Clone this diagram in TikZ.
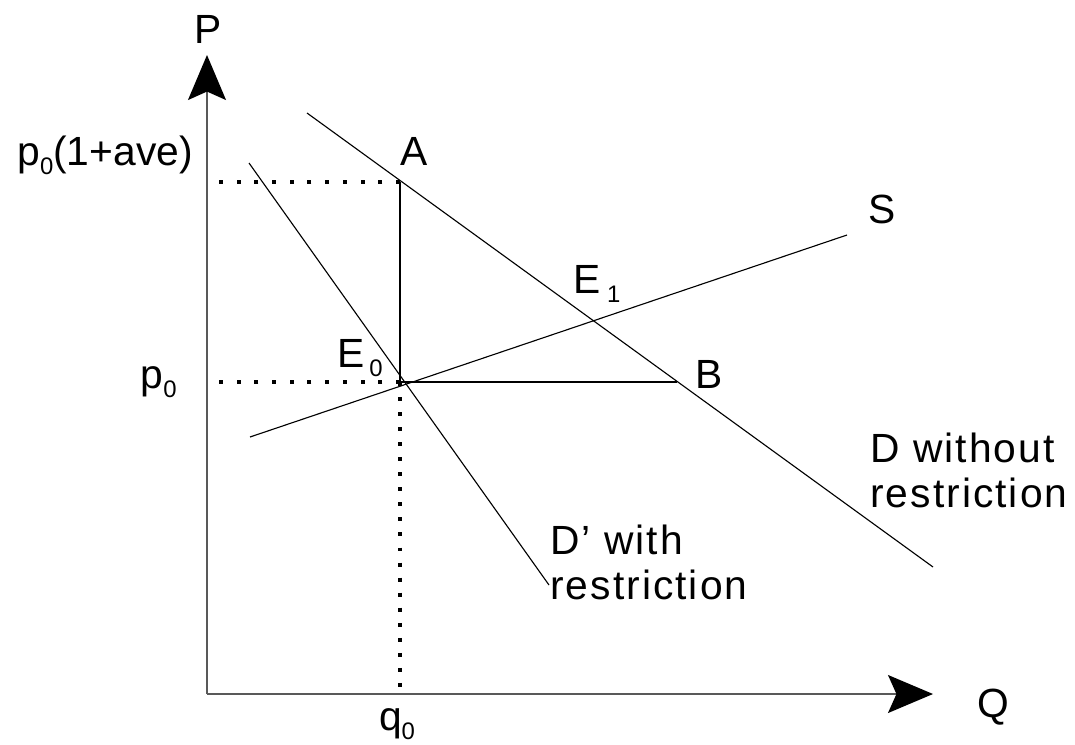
\documentclass[tikz,border=0pt]{standalone}
\usepackage{fontspec}
\setmainfont{Liberation Sans}
\newfontfamily\widefont[LetterSpace=5]{Liberation Sans}
\usetikzlibrary{arrows.meta}
\newcommand\lowsub[1]{\raisebox{-7pt}{\fontsize{17}{17}\selectfont #1}}
\tikzset{
  every picture/.style={x=0.025cm, y=-0.025cm, font=\fontsize{29}{32}\selectfont},
  axis/.style={draw=black!65, line width=1.1pt, -{Stealth[length=32pt, width=27pt, inset=6pt, color=black]}},
  curve/.style={draw=black, line width=0.8pt},
  guide/.style={line width=2.8pt, dash pattern=on 2.8pt off #1},
  guide/.default=9.8pt,
  lbl/.style={inner sep=0pt, anchor=base},
  curvelbl/.style={lbl, anchor=north west, align=left, font=\widefont\fontsize{29}{32}\selectfont},
}
\begin{document}
\begin{tikzpicture}
  \useasboundingbox (0,0) rectangle (1075,744);
  % axes
  \coordinate (O) at (207,694);
  \coordinate (ytop) at (207,55);
  \coordinate (xend) at (933,694);
  \draw[axis] (O) -- (ytop);
  \draw[axis] (O) -- (xend);
  \node[lbl] (P) at (208,43) {P};
  \node[lbl] (Q) at (993,717) {Q};
  % points of the diagram
  \coordinate (A) at (400,182);
  \coordinate (E0) at (400,382);
  \coordinate (B) at (677,382);
  \coordinate (pa) at (207,182);
  \coordinate (pz) at (207,382);
  \coordinate (qz) at (400,694);
  % curve ends
  \coordinate (Dtop) at (307,113);
  \coordinate (Dend) at (933,567);
  \coordinate (Dptop) at (249,163);
  \coordinate (Dpend) at (549,585);
  \coordinate (Sbot) at (250,437);
  \coordinate (Stop) at (847,235);
  \draw[curve] (Dtop) -- (Dend);
  \draw[curve] (Dptop) -- (Dpend);
  \draw[curve] (Sbot) -- (Stop);
  \draw[curve] (A) -- (E0) -- (B);
  \draw[guide] (A) -- (pa);
  \draw[guide] (E0) -- (pz);
  \draw[guide=7.9pt] (E0) -- (qz);
  % labels
  \node[lbl] (Alab) at (414,165) {A};
  \node[lbl] (Blab) at (709,388) {B};
  \node[lbl] (Slab) at (882,223) {S};
  \node[lbl, anchor=base west] (E0lab) at (337,367) {E\kern3.5pt\lowsub{0}};
  \node[lbl, anchor=base west] (E1lab) at (573,293) {E\kern4.7pt\lowsub{1}};
  \node[lbl, anchor=base east] (pAlab) at (193,165) {p\lowsub{0}(1+ave)};
  \node[lbl, anchor=base east] (p0lab) at (177,388) {p\lowsub{0}};
  \node[lbl] (q0lab) at (397,730) {q\lowsub{0}};
  \node[curvelbl] (Dlab) at (870,433) {D without\\restriction};
  \node[curvelbl] (Dplab) at (550,525) {D’ with\\restriction};
\end{tikzpicture}
\end{document}
